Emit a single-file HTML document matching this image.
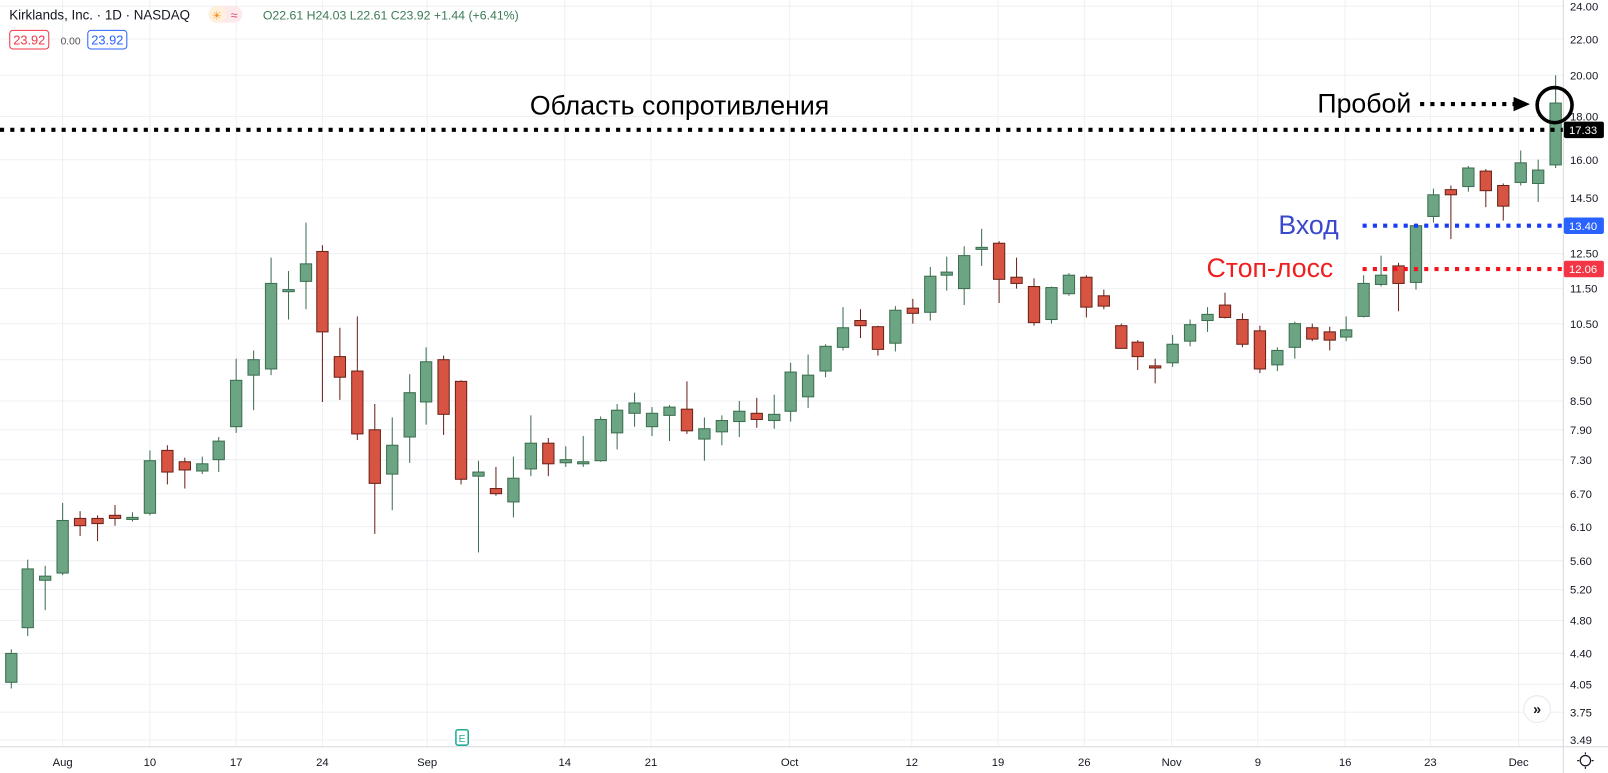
<!DOCTYPE html>
<html><head><meta charset="utf-8"><style>
html,body{margin:0;padding:0;background:#fff;width:1608px;height:773px;overflow:hidden}
svg{display:block}
text{font-family:"Liberation Sans",sans-serif}
</style></head><body>
<svg width="1608" height="773" viewBox="0 0 1566 750" preserveAspectRatio="none" xmlns="http://www.w3.org/2000/svg">
<g stroke="#eef0f4" stroke-width="1">
<line x1="0" x2="1522" y1="6" y2="6"/><line x1="0" x2="1522" y1="38" y2="38"/><line x1="0" x2="1522" y1="73" y2="73"/><line x1="0" x2="1522" y1="113" y2="113"/><line x1="0" x2="1522" y1="155" y2="155"/><line x1="0" x2="1522" y1="192" y2="192"/><line x1="0" x2="1522" y1="246" y2="246"/><line x1="0" x2="1522" y1="280" y2="280"/><line x1="0" x2="1522" y1="314" y2="314"/><line x1="0" x2="1522" y1="349" y2="349"/><line x1="0" x2="1522" y1="389" y2="389"/><line x1="0" x2="1522" y1="417" y2="417"/><line x1="0" x2="1522" y1="446" y2="446"/><line x1="0" x2="1522" y1="479" y2="479"/><line x1="0" x2="1522" y1="511" y2="511"/><line x1="0" x2="1522" y1="544" y2="544"/><line x1="0" x2="1522" y1="572" y2="572"/><line x1="0" x2="1522" y1="602" y2="602"/><line x1="0" x2="1522" y1="634" y2="634"/><line x1="0" x2="1522" y1="664" y2="664"/><line x1="0" x2="1522" y1="691" y2="691"/><line x1="0" x2="1522" y1="718" y2="718"/>
<line y1="0" y2="724" x1="61" x2="61"/><line y1="0" y2="724" x1="146" x2="146"/><line y1="0" y2="724" x1="230" x2="230"/><line y1="0" y2="724" x1="314" x2="314"/><line y1="0" y2="724" x1="416" x2="416"/><line y1="0" y2="724" x1="550" x2="550"/><line y1="0" y2="724" x1="634" x2="634"/><line y1="0" y2="724" x1="769" x2="769"/><line y1="0" y2="724" x1="888" x2="888"/><line y1="0" y2="724" x1="972" x2="972"/><line y1="0" y2="724" x1="1056" x2="1056"/><line y1="0" y2="724" x1="1141" x2="1141"/><line y1="0" y2="724" x1="1225" x2="1225"/><line y1="0" y2="724" x1="1310" x2="1310"/><line y1="0" y2="724" x1="1393" x2="1393"/><line y1="0" y2="724" x1="1479" x2="1479"/>
</g>
<line x1="1522.5" x2="1522.5" y1="0" y2="750" stroke="#d6d8de"/>
<line x1="0" x2="1566" y1="724.5" y2="724.5" stroke="#d6d8de"/>

<g id="G" fill="#6ba583" stroke="#3d6e50" stroke-width="1">
<line x1="11" x2="11" y1="630" y2="668"/><rect x="5.5" y="634" width="11" height="28"/>
<line x1="27" x2="27" y1="543" y2="617"/><rect x="21.5" y="552" width="11" height="57"/>
<line x1="44" x2="44" y1="549" y2="592"/><rect x="38.5" y="559" width="11" height="4"/>
<line x1="61" x2="61" y1="488" y2="558"/><rect x="55.5" y="505" width="11" height="51"/>
<line x1="129" x2="129" y1="497" y2="506"/><rect x="123.5" y="502" width="11" height="2"/>
<line x1="146" x2="146" y1="437" y2="500"/><rect x="140.5" y="447" width="11" height="51"/>
<line x1="197" x2="197" y1="443" y2="460"/><rect x="191.5" y="450" width="11" height="7"/>
<line x1="213" x2="213" y1="424" y2="458"/><rect x="207.5" y="428" width="11" height="18"/>
<line x1="230" x2="230" y1="348" y2="420"/><rect x="224.5" y="369" width="11" height="45"/>
<line x1="247" x2="247" y1="340" y2="398"/><rect x="241.5" y="349" width="11" height="15"/>
<line x1="264" x2="264" y1="250" y2="364"/><rect x="258.5" y="275" width="11" height="83"/>
<line x1="281" x2="281" y1="263" y2="310"/><rect x="275.5" y="281" width="11" height="2"/>
<line x1="298" x2="298" y1="216" y2="300"/><rect x="292.5" y="256" width="11" height="17"/>
<line x1="382" x2="382" y1="405" y2="495"/><rect x="376.5" y="432" width="11" height="28"/>
<line x1="399" x2="399" y1="363" y2="449"/><rect x="393.5" y="381" width="11" height="43"/>
<line x1="415" x2="415" y1="337" y2="412"/><rect x="409.5" y="351" width="11" height="39"/>
<line x1="466" x2="466" y1="447" y2="536"/><rect x="460.5" y="458" width="11" height="4"/>
<line x1="500" x2="500" y1="443" y2="502"/><rect x="494.5" y="464" width="11" height="23"/>
<line x1="517" x2="517" y1="403" y2="462"/><rect x="511.5" y="430" width="11" height="25"/>
<line x1="551" x2="551" y1="433" y2="453"/><rect x="545.5" y="446" width="11" height="3"/>
<line x1="568" x2="568" y1="423" y2="453"/><rect x="562.5" y="448" width="11" height="2"/>
<line x1="585" x2="585" y1="404" y2="448"/><rect x="579.5" y="407" width="11" height="40"/>
<line x1="601" x2="601" y1="392" y2="436"/><rect x="595.5" y="398" width="11" height="22"/>
<line x1="618" x2="618" y1="381" y2="414"/><rect x="612.5" y="391" width="11" height="10"/>
<line x1="635" x2="635" y1="395" y2="423"/><rect x="629.5" y="401" width="11" height="13"/>
<line x1="652" x2="652" y1="393" y2="428"/><rect x="646.5" y="395" width="11" height="8"/>
<line x1="686" x2="686" y1="405" y2="447"/><rect x="680.5" y="416" width="11" height="10"/>
<line x1="703" x2="703" y1="403" y2="432"/><rect x="697.5" y="408" width="11" height="11"/>
<line x1="720" x2="720" y1="389" y2="424"/><rect x="714.5" y="399" width="11" height="10"/>
<line x1="754" x2="754" y1="383" y2="416"/><rect x="748.5" y="402" width="11" height="6"/>
<line x1="770" x2="770" y1="352" y2="409"/><rect x="764.5" y="361" width="11" height="38"/>
<line x1="787" x2="787" y1="344" y2="396"/><rect x="781.5" y="364" width="11" height="21"/>
<line x1="804" x2="804" y1="334" y2="366"/><rect x="798.5" y="336" width="11" height="24"/>
<line x1="821" x2="821" y1="298" y2="340"/><rect x="815.5" y="318" width="11" height="19"/>
<line x1="872" x2="872" y1="297" y2="341"/><rect x="866.5" y="301" width="11" height="32"/>
<line x1="906" x2="906" y1="259" y2="311"/><rect x="900.5" y="268" width="11" height="35"/>
<line x1="922" x2="922" y1="249" y2="282"/><rect x="916.5" y="264" width="11" height="3"/>
<line x1="939" x2="939" y1="239" y2="296"/><rect x="933.5" y="248" width="11" height="32"/>
<line x1="956" x2="956" y1="222" y2="258"/><rect x="950.5" y="240" width="11" height="2"/>
<line x1="1024" x2="1024" y1="278" y2="314"/><rect x="1018.5" y="279" width="11" height="31"/>
<line x1="1041" x2="1041" y1="265" y2="287"/><rect x="1035.5" y="267" width="11" height="18"/>
<line x1="1142" x2="1142" y1="325" y2="356"/><rect x="1136.5" y="334" width="11" height="18"/>
<line x1="1159" x2="1159" y1="310" y2="336"/><rect x="1153.5" y="315" width="11" height="16"/>
<line x1="1176" x2="1176" y1="298" y2="322"/><rect x="1170.5" y="305" width="11" height="6"/>
<line x1="1244" x2="1244" y1="337" y2="360"/><rect x="1238.5" y="340" width="11" height="14"/>
<line x1="1261" x2="1261" y1="312" y2="348"/><rect x="1255.5" y="314" width="11" height="23"/>
<line x1="1311" x2="1311" y1="307" y2="331"/><rect x="1305.5" y="320" width="11" height="7"/>
<line x1="1328" x2="1328" y1="267" y2="308"/><rect x="1322.5" y="275" width="11" height="32"/>
<line x1="1345" x2="1345" y1="248" y2="278"/><rect x="1339.5" y="267" width="11" height="9"/>
<line x1="1379" x2="1379" y1="218" y2="281"/><rect x="1373.5" y="219" width="11" height="55"/>
<line x1="1396" x2="1396" y1="183" y2="216"/><rect x="1390.5" y="189" width="11" height="21"/>
<line x1="1430" x2="1430" y1="161" y2="186"/><rect x="1424.5" y="163" width="11" height="18"/>
<line x1="1481" x2="1481" y1="146" y2="180"/><rect x="1475.5" y="158" width="11" height="19"/>
<line x1="1498" x2="1498" y1="155" y2="196"/><rect x="1492.5" y="165" width="11" height="13"/>
<line x1="1515" x2="1515" y1="73" y2="163"/><rect x="1509.5" y="100" width="11" height="60"/>
</g>
<g fill="#d75442" stroke="#6b2219" stroke-width="1">
<line x1="78" x2="78" y1="496" y2="520"/><rect x="72.5" y="503" width="11" height="7"/>
<line x1="95" x2="95" y1="500" y2="525"/><rect x="89.5" y="503" width="11" height="5"/>
<line x1="112" x2="112" y1="490" y2="510"/><rect x="106.5" y="500" width="11" height="3"/>
<line x1="163" x2="163" y1="432" y2="470"/><rect x="157.5" y="437" width="11" height="21"/>
<line x1="180" x2="180" y1="444" y2="474"/><rect x="174.5" y="448" width="11" height="8"/>
<line x1="314" x2="314" y1="238" y2="390"/><rect x="308.5" y="244" width="11" height="78"/>
<line x1="331" x2="331" y1="318" y2="388"/><rect x="325.5" y="346" width="11" height="20"/>
<line x1="348" x2="348" y1="307" y2="427"/><rect x="342.5" y="360" width="11" height="61"/>
<line x1="365" x2="365" y1="392" y2="518"/><rect x="359.5" y="417" width="11" height="52"/>
<line x1="432" x2="432" y1="345" y2="422"/><rect x="426.5" y="349" width="11" height="53"/>
<line x1="449" x2="449" y1="369" y2="470"/><rect x="443.5" y="370" width="11" height="95"/>
<line x1="483" x2="483" y1="453" y2="481"/><rect x="477.5" y="474" width="11" height="5"/>
<line x1="534" x2="534" y1="425" y2="462"/><rect x="528.5" y="430" width="11" height="20"/>
<line x1="669" x2="669" y1="370" y2="421"/><rect x="663.5" y="397" width="11" height="21"/>
<line x1="737" x2="737" y1="386" y2="415"/><rect x="731.5" y="401" width="11" height="6"/>
<line x1="838" x2="838" y1="300" y2="328"/><rect x="832.5" y="311" width="11" height="5"/>
<line x1="855" x2="855" y1="316" y2="345"/><rect x="849.5" y="317" width="11" height="22"/>
<line x1="889" x2="889" y1="290" y2="314"/><rect x="883.5" y="299" width="11" height="5"/>
<line x1="973" x2="973" y1="234" y2="294"/><rect x="967.5" y="236" width="11" height="35"/>
<line x1="990" x2="990" y1="250" y2="280"/><rect x="984.5" y="269" width="11" height="6"/>
<line x1="1007" x2="1007" y1="270" y2="316"/><rect x="1001.5" y="278" width="11" height="35"/>
<line x1="1058" x2="1058" y1="267" y2="308"/><rect x="1052.5" y="269" width="11" height="29"/>
<line x1="1075" x2="1075" y1="281" y2="300"/><rect x="1069.5" y="287" width="11" height="10"/>
<line x1="1092" x2="1092" y1="314" y2="338"/><rect x="1086.5" y="316" width="11" height="22"/>
<line x1="1108" x2="1108" y1="330" y2="359"/><rect x="1102.5" y="332" width="11" height="14"/>
<line x1="1125" x2="1125" y1="348" y2="372"/><rect x="1119.5" y="355" width="11" height="2"/>
<line x1="1193" x2="1193" y1="284" y2="309"/><rect x="1187.5" y="296" width="11" height="12"/>
<line x1="1210" x2="1210" y1="304" y2="337"/><rect x="1204.5" y="310" width="11" height="24"/>
<line x1="1227" x2="1227" y1="316" y2="362"/><rect x="1221.5" y="321" width="11" height="37"/>
<line x1="1278" x2="1278" y1="314" y2="331"/><rect x="1272.5" y="318" width="11" height="11"/>
<line x1="1295" x2="1295" y1="317" y2="340"/><rect x="1289.5" y="322" width="11" height="8"/>
<line x1="1362" x2="1362" y1="255" y2="302"/><rect x="1356.5" y="258" width="11" height="17"/>
<line x1="1413" x2="1413" y1="180" y2="232"/><rect x="1407.5" y="184" width="11" height="5"/>
<line x1="1447" x2="1447" y1="164" y2="201"/><rect x="1441.5" y="166" width="11" height="19"/>
<line x1="1464" x2="1464" y1="178" y2="214"/><rect x="1458.5" y="180" width="11" height="20"/>
</g>

<!-- annotations -->
<line x1="0" x2="1522" y1="126" y2="126" stroke="#000" stroke-width="4" stroke-dasharray="4,6"/>
<line x1="1327" x2="1522" y1="219" y2="219" stroke="#1b3cf5" stroke-width="4" stroke-dasharray="4,6"/>
<line x1="1327" x2="1522" y1="261" y2="261" stroke="#f5141e" stroke-width="4" stroke-dasharray="4,6"/>
<line x1="1383" x2="1475" y1="101" y2="101" stroke="#000" stroke-width="4" stroke-dasharray="4,6"/>
<polygon points="1474,94 1490,101 1474,108" fill="#000"/>
<circle cx="1514" cy="102" r="17" fill="none" stroke="#000" stroke-width="3.5"/>
<text x="516" y="111" font-size="26" fill="#000">Область сопротивления</text>
<text x="1283" y="109" font-size="26" fill="#000">Пробой</text>
<text x="1245" y="227" font-size="26" fill="#3a49cc">Вход</text>
<text x="1175" y="269" font-size="26" fill="#f01e1e">Стоп-лосс</text>

<!-- price axis -->
<g font-size="11" fill="#131722">
<text x="1529" y="10">24.00</text><text x="1529" y="42">22.00</text><text x="1529" y="77">20.00</text><text x="1529" y="117">18.00</text><text x="1529" y="159">16.00</text><text x="1529" y="196">14.50</text><text x="1529" y="250">12.50</text><text x="1529" y="284">11.50</text><text x="1529" y="318">10.50</text><text x="1529" y="353">9.50</text><text x="1529" y="393">8.50</text><text x="1529" y="421">7.90</text><text x="1529" y="450">7.30</text><text x="1529" y="483">6.70</text><text x="1529" y="515">6.10</text><text x="1529" y="548">5.60</text><text x="1529" y="576">5.20</text><text x="1529" y="606">4.80</text><text x="1529" y="638">4.40</text><text x="1529" y="668">4.05</text><text x="1529" y="695">3.75</text><text x="1529" y="722">3.49</text>
</g>
<rect x="1523" y="118" width="39" height="16" rx="2" fill="#000"/><text x="1528" y="130" font-size="11" fill="#fff">17.33</text>
<rect x="1523" y="211" width="39" height="16" rx="2" fill="#2962ff"/><text x="1528" y="223" font-size="11" fill="#fff">13.40</text>
<rect x="1523" y="253" width="39" height="16" rx="2" fill="#f23645"/><text x="1528" y="265" font-size="11" fill="#fff">12.06</text>

<!-- time axis -->
<g font-size="11" fill="#131722" text-anchor="middle">
<text x="61" y="743">Aug</text><text x="146" y="743">10</text><text x="230" y="743">17</text><text x="314" y="743">24</text><text x="416" y="743">Sep</text><text x="550" y="743">14</text><text x="634" y="743">21</text><text x="769" y="743">Oct</text><text x="888" y="743">12</text><text x="972" y="743">19</text><text x="1056" y="743">26</text><text x="1141" y="743">Nov</text><text x="1225" y="743">9</text><text x="1310" y="743">16</text><text x="1393" y="743">23</text><text x="1479" y="743">Dec</text>
</g>
<circle cx="1544" cy="738" r="5" fill="none" stroke="#131722" stroke-width="1.2"/>
<g stroke="#131722" stroke-width="1.2"><line x1="1544" y1="730" x2="1544" y2="732"/><line x1="1544" y1="744" x2="1544" y2="746"/><line x1="1536" y1="738" x2="1538" y2="738"/><line x1="1550" y1="738" x2="1552" y2="738"/></g>

<!-- E marker -->
<rect x="444" y="708" width="12" height="15" rx="2" fill="#fff" stroke="#22ab94" stroke-width="1.5"/>
<text x="450" y="720" font-size="10" fill="#22ab94" text-anchor="middle">E</text>
<!-- scroll button -->
<circle cx="1497" cy="688" r="13" fill="#fff" stroke="#e8e9ee"/>
<text x="1497" y="693" font-size="14" fill="#131722" text-anchor="middle" font-weight="bold">»</text>

<!-- header -->
<text x="9" y="19" font-size="13" fill="#131722">Kirklands, Inc. · 1D · NASDAQ</text>
<rect x="203" y="6" width="33" height="16" rx="8" fill="#fde8ea"/>
<rect x="203" y="6" width="17" height="16" rx="8" fill="#fff0dc"/>
<text x="211" y="19" font-size="11" fill="#f7931a" text-anchor="middle">☀</text>
<text x="228" y="19" font-size="12" fill="#e0457b" text-anchor="middle">≈</text>
<text x="256" y="19" font-size="12" fill="#3b7a57">O22.61 H24.03 L22.61 C23.92 +1.44 (+6.41%)</text>
<rect x="9.5" y="29.5" width="38" height="18" rx="3" fill="#fff" stroke="#f23645"/>
<text x="28.5" y="43" font-size="12.5" fill="#f23645" text-anchor="middle">23.92</text>
<text x="59" y="43" font-size="10" fill="#555">0.00</text>
<rect x="85.5" y="29.5" width="38" height="18" rx="3" fill="#fff" stroke="#2962ff"/>
<text x="104.5" y="43" font-size="12.5" fill="#2962ff" text-anchor="middle">23.92</text>
</svg>
</body></html>
